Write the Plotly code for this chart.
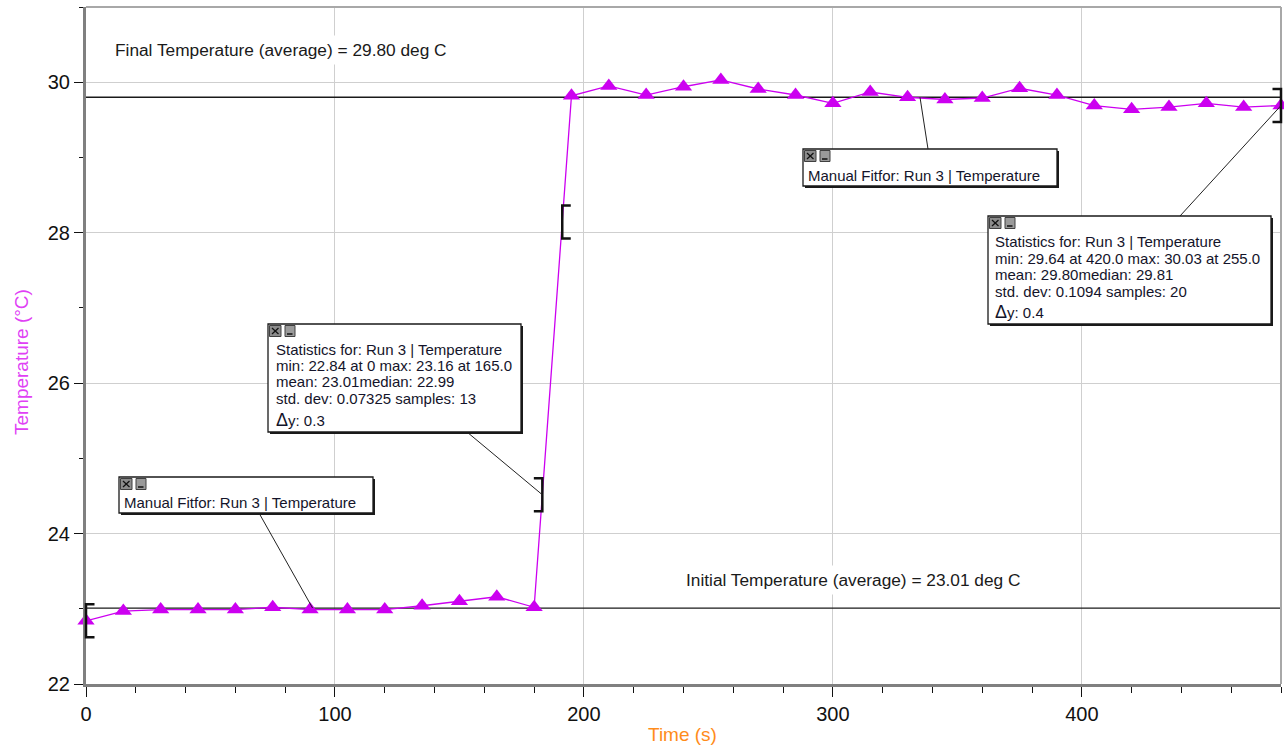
import numpy as np
import plotly.graph_objects as go

# ---------------- data ----------------
TIME = [0, 15, 30, 45, 60, 75, 90, 105, 120, 135, 150, 165, 180,
        195, 210, 225, 240, 255, 270, 285, 300, 315, 330, 345, 360,
        375, 390, 405, 420, 435, 450, 465, 480]
TEMP = [22.84, 22.97, 22.99, 22.99, 22.99, 23.02, 22.99, 22.99, 22.99,
        23.04, 23.10, 23.16, 23.02,
        29.82, 29.95, 29.83, 29.94, 30.03, 29.91, 29.83, 29.72, 29.87,
        29.80, 29.77, 29.79, 29.92, 29.83, 29.69, 29.64, 29.67, 29.72,
        29.67, 29.69]

FIT_INITIAL = 23.01
FIT_FINAL = 29.80
SEL1 = [0, 183.3]      # statistics selection 1 (x range)
SEL2 = [191.3, 480]    # statistics selection 2 (x range)

X_RANGE = [0, 480]
Y_RANGE = [22, 31]
X_TICKS = [0, 100, 200, 300, 400]
Y_TICKS = [22, 24, 26, 28, 30]

STATS1 = ["Statistics for: Run 3 | Temperature",
          "min: 22.84 at 0 max: 23.16 at 165.0",
          "mean: 23.01median: 22.99",
          "std. dev: 0.07325 samples: 13"]
DY1 = "0.3"
STATS2 = ["Statistics for: Run 3 | Temperature",
          "min: 29.64 at 420.0 max: 30.03 at 255.0",
          "mean: 29.80median: 29.81",
          "std. dev: 0.1094 samples: 20"]
DY2 = "0.4"
FIT_LABEL = "Manual Fitfor: Run 3 | Temperature"
FINAL_TEXT = "Final Temperature (average) = 29.80 deg C"
INITIAL_TEXT = "Initial Temperature (average) = 23.01 deg C"

# ---------------- geometry helpers ----------------
W, H = 1284, 750
ML, MR, MT, MB = 86, 3, 7, 66
PW, PH = W - ML - MR, H - MT - MB
FONT = "Liberation Sans, Arial, sans-serif"
MAG = "#CC00F0"


def PX(px):
    return (px - ML) / PW


def PY(py):
    return (H - MB - py) / PH


def DX(x):
    return (x - X_RANGE[0]) / (X_RANGE[1] - X_RANGE[0])


def DY(y):
    return (y - Y_RANGE[0]) / (Y_RANGE[1] - Y_RANGE[0])


fig = go.Figure()

# fit lines
fig.add_trace(go.Scatter(x=X_RANGE, y=[FIT_FINAL, FIT_FINAL], mode="lines",
                         line=dict(color="#1a1a1a", width=1.3), hoverinfo="skip"))
fig.add_trace(go.Scatter(x=X_RANGE, y=[FIT_INITIAL, FIT_INITIAL], mode="lines",
                         line=dict(color="#1a1a1a", width=1.3), hoverinfo="skip"))
# data
fig.add_trace(go.Scatter(x=TIME, y=TEMP, mode="lines+markers",
                         line=dict(color=MAG, width=1.3),
                         marker=dict(symbol="triangle-up", size=15, color=MAG,
                                     line=dict(width=0)),
                         cliponaxis=False))

shapes = []
annotations = []

# frame top / right
shapes.append(dict(type="line", xref="paper", yref="paper", x0=0, x1=1, y0=1, y1=1,
                   line=dict(color="#a8a8a8", width=2), layer="above"))
shapes.append(dict(type="line", xref="paper", yref="paper", x0=1, x1=1, y0=0, y1=1,
                   line=dict(color="#a8a8a8", width=2), layer="above"))


def box(x0, y0, x1, y1):
    shapes.append(dict(type="rect", xref="paper", yref="paper",
                       x0=PX(x0 + 2), x1=PX(x1 + 2), y0=PY(y0 + 2), y1=PY(y1 + 2),
                       fillcolor="#1a1a1a", line=dict(width=0), layer="above"))
    shapes.append(dict(type="rect", xref="paper", yref="paper",
                       x0=PX(x0), x1=PX(x1), y0=PY(y0), y1=PY(y1),
                       fillcolor="white", line=dict(color="#1a1a1a", width=1.3),
                       layer="above"))
    # window icons
    shapes.append(dict(type="rect", xref="paper", yref="paper",
                       x0=PX(x0 + 1.5), x1=PX(x0 + 13), y0=PY(y0 + 1.5), y1=PY(y0 + 12.5),
                       fillcolor="#8c8c8c", line=dict(color="#404040", width=1),
                       layer="above"))
    shapes.append(dict(type="line", xref="paper", yref="paper",
                       x0=PX(x0 + 4), x1=PX(x0 + 10.5), y0=PY(y0 + 4), y1=PY(y0 + 10),
                       line=dict(color="#111", width=1.2), layer="above"))
    shapes.append(dict(type="line", xref="paper", yref="paper",
                       x0=PX(x0 + 10.5), x1=PX(x0 + 4), y0=PY(y0 + 4), y1=PY(y0 + 10),
                       line=dict(color="#111", width=1.2), layer="above"))
    shapes.append(dict(type="rect", xref="paper", yref="paper",
                       x0=PX(x0 + 17), x1=PX(x0 + 27), y0=PY(y0 + 1.5), y1=PY(y0 + 12.5),
                       fillcolor="#9a9a9a", line=dict(color="#404040", width=1),
                       layer="above"))
    shapes.append(dict(type="line", xref="paper", yref="paper",
                       x0=PX(x0 + 19), x1=PX(x0 + 24.5), y0=PY(y0 + 10), y1=PY(y0 + 10),
                       line=dict(color="#111", width=1.5), layer="above"))


def text(px, py, s, size=15, color="#14142a", bg=None, pad=1):
    d = dict(xref="paper", yref="paper", x=PX(px), y=PY(py), text=s,
             showarrow=False, xanchor="left", yanchor="middle",
             font=dict(family=FONT, size=size, color=color), borderpad=pad)
    if bg:
        d["bgcolor"] = bg
    annotations.append(d)


def leader(px0, py0, xp1, yp1):
    shapes.append(dict(type="line", xref="paper", yref="paper",
                       x0=PX(px0), y0=PY(py0), x1=xp1, y1=yp1,
                       line=dict(color="#222", width=1), layer="above"))


def bracket(x, opening):
    yc = float(np.interp(x, TIME, TEMP))
    half = 16.5 / PH
    w = 8.5 / PW * (1 if opening else -1)
    xp, ypc = DX(x), DY(yc)
    path = (f"M {xp + w},{ypc + half} L {xp},{ypc + half} "
            f"L {xp},{ypc - half} L {xp + w},{ypc - half}")
    shapes.append(dict(type="path", xref="paper", yref="paper", path=path,
                       line=dict(color="#111", width=2.5), layer="above"))
    return xp, ypc


# brackets marking the statistics ranges
b1 = bracket(SEL1[0], True)
b2 = bracket(SEL1[1], False)
b3 = bracket(SEL2[0], True)
b4 = bracket(SEL2[1], False)

# leader lines
leader(259, 513, DX(91), DY(FIT_INITIAL))
leader(467, 432, b2[0], b2[1])
leader(928, 149, DX(335), DY(FIT_FINAL))
leader(1180, 216, b4[0], b4[1])

# boxes
box(119, 477, 373, 513)
text(122, 503, FIT_LABEL)

box(268, 324, 521, 432)
for i, s in enumerate(STATS1):
    text(274, 349 + i * 16.4, s)
text(274, 420, f"<span style='font-size:18px'>Δ</span>y: {DY1}")

box(803, 149, 1057, 186)
text(806, 175, FIT_LABEL)

box(988, 216, 1271, 324)
for i, s in enumerate(STATS2):
    text(993, 242 + i * 16.4, s)
text(993, 312, f"<span style='font-size:18px'>Δ</span>y: {DY2}")

# value labels
text(110, 50, FINAL_TEXT, size=17.3, color="#1a1a1a", bg="white", pad=4)
text(681, 580, INITIAL_TEXT, size=17.3, color="#1a1a1a", bg="white", pad=4)

# axis titles
annotations.append(dict(xref="paper", yref="paper", x=PX(682), y=PY(734),
                        text="Time (s)", showarrow=False, xanchor="center",
                        yanchor="middle",
                        font=dict(family=FONT, size=19, color="#FF8C1A")))
annotations.append(dict(xref="paper", yref="paper", x=PX(21), y=PY(362),
                        text="Temperature (°C)", showarrow=False, textangle=-90,
                        xanchor="center", yanchor="middle",
                        font=dict(family=FONT, size=19, color="#E040F5")))

fig.update_layout(
    width=W, height=H,
    margin=dict(l=ML, r=MR, t=MT, b=MB),
    paper_bgcolor="white", plot_bgcolor="white",
    showlegend=False,
    shapes=shapes, annotations=annotations,
    xaxis=dict(range=X_RANGE, tickmode="array", tickvals=X_TICKS,
               ticks="outside", ticklen=10, tickwidth=1, tickcolor="#111",
               showgrid=True, gridcolor="#cfcfcf", gridwidth=1,
               showline=True, linecolor="#808080", linewidth=3,
               zeroline=False, fixedrange=True,
               tickfont=dict(family=FONT, size=20, color="#111"),
               minor=dict(dtick=20, tick0=0, ticks="outside", ticklen=6,
                          tickcolor="#111", tickwidth=1, showgrid=False)),
    yaxis=dict(range=Y_RANGE, tickmode="array", tickvals=Y_TICKS,
               ticks="outside", ticklen=9, tickwidth=1, tickcolor="#111",
               showgrid=True, gridcolor="#cfcfcf", gridwidth=1,
               showline=True, linecolor="#808080", linewidth=3,
               zeroline=False, fixedrange=True,
               tickfont=dict(family=FONT, size=20, color="#111"),
               minor=dict(dtick=1, tick0=22, ticks="outside", ticklen=4,
                          tickcolor="#111", tickwidth=1, showgrid=False)),
)

fig.write_html("out.html", config={"displayModeBar": False},
               post_script="document.body.style.margin='0px';"
                           "document.body.style.overflow='hidden';")
